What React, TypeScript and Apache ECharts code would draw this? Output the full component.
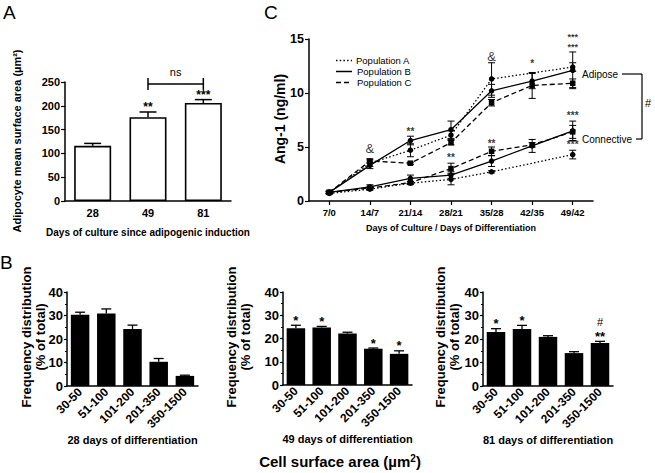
import React, { useEffect, useRef } from "react";
import * as echarts from "echarts";

// ---------- Panel A ----------
const aCategories = ["28", "49", "81"];
const aValues = [116, 176, 206];
const aErrors = [5, 11, 7];
const aMarks = ["", "**", "***"];
const aNsPair = [1, 2];
const aNsLevel = 246;

// ---------- Panel B ----------
const bCategories = ["30-50", "51-100", "101-200", "201-350", "350-1500"];
const b28Values = [30.3, 30.8, 24.3, 10.3, 4.3];
const b28Errors = [1.1, 2.0, 1.6, 1.4, 0.3];
const b28Marks = ["", "", "", "", ""];
const b49Values = [24.4, 24.7, 22.1, 15.6, 13.4];
const b49Errors = [1.3, 0.5, 0.6, 0.3, 1.3];
const b49Marks = ["*", "*", "", "*", "*"];
const b81Values = [23.0, 24.3, 20.9, 14.0, 18.3];
const b81Errors = [1.4, 1.5, 0.5, 0.6, 0.7];
const b81Marks = ["*", "*", "", "", "#\n**"];

// ---------- Panel C ----------
const cCategories = ["7/0", "14/7", "21/14", "28/21", "35/28", "42/35", "49/42"];
const adiposeA = [0.8, 3.5, 4.7, 6.1, 11.3, null, 12.4];
const adiposeB = [0.8, 3.3, 5.6, 6.6, 10.2, 11.1, 12.1];
const adiposeC = [0.8, 3.7, 3.5, 5.4, 9.1, 10.7, 10.9];
const connectiveA = [0.7, 1.1, 1.65, 2.0, 2.7, null, 4.3];
const connectiveB = [0.8, 1.3, 2.1, 2.4, 3.7, 5.1, 6.5];
const connectiveC = [0.8, 1.2, 1.7, 3.0, 4.6, 5.2, 6.4];
const adiposeAErr = [0.1, 0.3, 0.6, 0.4, 1.5, null, 0.4];
const adiposeBErr = [0.1, 0.3, 0.4, 0.8, 0.6, 0.7, 1.7];
const adiposeCErr = [0.1, 0.2, 0.1, 0.2, 0.3, 1.2, 0.4];
const connectiveAErr = [0.1, 0.1, 0.1, 0.5, 0.1, null, 0.4];
const connectiveBErr = [0.1, 0.2, 0.3, 0.3, 0.5, 0.6, 0.9];
const connectiveCErr = [0.1, 0.1, 0.1, 0.5, 0.4, 0.2, 0.6];
const cMarkIndex = [1, 2, 3, 4, 4, 5, 6, 6, 6];
const cMarkValue = [4.9, 6.4, 4.0, 13.4, 5.35, 12.75, 14.7, 7.9, 5.2];
const cMarkText = ["&", "**", "**", "&", "**", "*", "***\n***", "***", "***"];
const populationNames = ["Population A", "Population B", "Population C"];

const FONT = "'Liberation Sans', Arial, Helvetica, sans-serif";
const DOTTED = [1.5, 2.2];
const DASHED = [5, 3];

function upperErrorBars(idx: number, values: number[], errors: number[], marks: string[], capWidth: number, lineWidth: number, markSize: number) {
  return {
    type: "custom",
    xAxisIndex: idx,
    yAxisIndex: idx,
    silent: true,
    clip: false,
    z: 5,
    itemStyle: { color: "#000" },
    data: values.map((v, i) => [i, v + errors[i]]),
    renderItem: (params: any, api: any) => {
      const i = params.dataIndex;
      const p0 = api.coord([i, values[i]]);
      const p1 = api.coord([i, values[i] + errors[i]]);
      const children: any[] = [
        { type: "line", shape: { x1: p0[0], y1: p0[1], x2: p1[0], y2: p1[1] }, style: { stroke: "#000", lineWidth } },
        { type: "line", shape: { x1: p1[0] - capWidth / 2, y1: p1[1], x2: p1[0] + capWidth / 2, y2: p1[1] }, style: { stroke: "#000", lineWidth } },
      ];
      const lines = (marks[i] || "").split("\n").filter(Boolean).reverse();
      lines.forEach((t, k) => {
        children.push({
          type: "text",
          x: p1[0],
          y: p1[1] - 5 - k * 14,
          style: {
            text: t,
            fill: "#000",
            fontSize: t === "#" ? 11 : markSize,
            fontWeight: t === "#" ? "normal" : "bold",
            fontFamily: FONT,
            align: "center",
            verticalAlign: "middle",
          },
        });
      });
      return { type: "group", children };
    },
  };
}

function rangeErrorBars(values: (number | null)[], errors: (number | null)[]) {
  const cap = 7;
  return {
    type: "custom",
    xAxisIndex: 1,
    yAxisIndex: 1,
    silent: true,
    clip: false,
    z: 4,
    itemStyle: { color: "#000" },
    data: values.map((v, i) => [i, v == null ? 0 : v]),
    renderItem: (params: any, api: any) => {
      const i = params.dataIndex;
      const v = values[i];
      const e = errors[i];
      if (v == null || e == null) return null;
      const lo = api.coord([i, v - e]);
      const hi = api.coord([i, v + e]);
      const st = { stroke: "#000", lineWidth: 1 };
      return {
        type: "group",
        children: [
          { type: "line", shape: { x1: lo[0], y1: lo[1], x2: hi[0], y2: hi[1] }, style: st },
          { type: "line", shape: { x1: hi[0] - cap / 2, y1: hi[1], x2: hi[0] + cap / 2, y2: hi[1] }, style: st },
          { type: "line", shape: { x1: lo[0] - cap / 2, y1: lo[1], x2: lo[0] + cap / 2, y2: lo[1] }, style: st },
        ],
      };
    },
  };
}

function lineSeries(name: string, data: (number | null)[], dash: any, symbol: string) {
  return {
    type: "line",
    name,
    xAxisIndex: 1,
    yAxisIndex: 1,
    data,
    connectNulls: true,
    symbol,
    symbolSize: 5.5,
    showSymbol: true,
    itemStyle: { color: "#000" },
    lineStyle: { color: "#000", width: 1.3, type: dash },
    z: 3,
  };
}

const axisLine = { show: true, lineStyle: { color: "#000", width: 1.5 } };

function bXAxis(idx: number, title: string) {
  return {
    gridIndex: idx,
    type: "category",
    data: bCategories,
    axisLine,
    axisTick: { show: false },
    axisLabel: { color: "#000", fontWeight: "bold", fontSize: 12, rotate: 45, interval: 0, margin: 4, fontFamily: FONT },
    name: title,
    nameLocation: "middle",
    nameGap: 48,
    nameTextStyle: { color: "#000", fontWeight: "bold", fontSize: 11, fontFamily: FONT },
  };
}

function bYAxis(idx: number) {
  return {
    gridIndex: idx,
    type: "value",
    min: 0,
    max: 40,
    interval: 10,
    splitLine: { show: false },
    axisLine,
    axisTick: { show: true, length: 3, lineStyle: { color: "#000", width: 1.2 } },
    minorTick: { show: true, splitNumber: 2, length: 2, lineStyle: { color: "#000", width: 1 } },
    axisLabel: { color: "#000", fontWeight: "bold", fontSize: 13, margin: 4, fontFamily: FONT },
  };
}

function bBars(idx: number, values: number[]) {
  return {
    type: "bar",
    xAxisIndex: idx,
    yAxisIndex: idx,
    data: values,
    barWidth: 18.5,
    itemStyle: { color: "#000" },
  };
}

function vTitle(text: string, x: number, y: number, size: number) {
  return {
    type: "text",
    x,
    y,
    rotation: Math.PI / 2,
    style: {
      text,
      fill: "#000",
      fontSize: size,
      fontWeight: "bold",
      fontFamily: FONT,
      lineHeight: size + 0.5,
      align: "center",
      verticalAlign: "middle",
    },
  };
}

export default function App() {
  const ref = useRef<HTMLDivElement>(null);
  useEffect(() => {
    if (!ref.current) return;
    const chart = echarts.init(ref.current, undefined, { renderer: "svg" });
    const option: any = {
      animation: false,
      backgroundColor: "#fff",
      color: ["#000"],
      textStyle: { fontFamily: FONT, color: "#000" },
      grid: [
        { left: 65, top: 82, width: 166, height: 119 },
        { left: 309, top: 39, width: 284, height: 162 },
        { left: 67, top: 292, width: 131, height: 94 },
        { left: 283, top: 292, width: 129, height: 93 },
        { left: 483, top: 292, width: 130, height: 94 },
      ],
      xAxis: [
        {
          gridIndex: 0,
          type: "category",
          data: aCategories,
          axisLine,
          axisTick: { show: false },
          axisLabel: { color: "#000", fontWeight: "bold", fontSize: 11, margin: 6, fontFamily: FONT },
          name: "Days of culture since adipogenic induction",
          nameLocation: "middle",
          nameGap: 26,
          nameTextStyle: { color: "#000", fontWeight: "bold", fontSize: 10, fontFamily: FONT },
        },
        {
          gridIndex: 1,
          type: "category",
          data: cCategories,
          boundaryGap: true,
          axisLine,
          axisTick: { show: true, alignWithLabel: true, length: 4, lineStyle: { color: "#000", width: 1.2 } },
          axisLabel: { color: "#000", fontWeight: "bold", fontSize: 9.5, margin: 6, fontFamily: FONT },
          name: "Days of Culture / Days of Differentiation",
          nameLocation: "middle",
          nameGap: 22,
          nameTextStyle: { color: "#000", fontWeight: "bold", fontSize: 9, fontFamily: FONT },
        },
        bXAxis(2, "28 days of differentiation"),
        bXAxis(3, "49 days of differentiation"),
        bXAxis(4, "81 days of differentiation"),
      ],
      yAxis: [
        {
          gridIndex: 0,
          type: "value",
          min: 0,
          max: 250,
          interval: 50,
          splitLine: { show: false },
          axisLine,
          axisTick: { show: true, length: 4, lineStyle: { color: "#000", width: 1.2 } },
          axisLabel: { color: "#000", fontWeight: "bold", fontSize: 11, margin: 5, fontFamily: FONT },
        },
        {
          gridIndex: 1,
          type: "value",
          min: 0,
          max: 15,
          interval: 5,
          splitLine: { show: false },
          axisLine,
          axisTick: { show: true, length: 4, lineStyle: { color: "#000", width: 1.2 } },
          axisLabel: { color: "#000", fontWeight: "bold", fontSize: 12.5, margin: 5, fontFamily: FONT },
        },
        bYAxis(2),
        bYAxis(3),
        bYAxis(4),
      ],
      series: [
        {
          type: "bar",
          xAxisIndex: 0,
          yAxisIndex: 0,
          data: aValues,
          barWidth: 37,
          itemStyle: { color: "#fff", borderColor: "#000", borderWidth: 1.6 },
        },
        upperErrorBars(0, aValues, aErrors, aMarks, 17, 1.5, 12),
        {
          type: "custom",
          xAxisIndex: 0,
          yAxisIndex: 0,
          silent: true,
          clip: false,
          itemStyle: { color: "#000" },
          data: [[aNsPair[0], aNsLevel]],
          renderItem: (params: any, api: any) => {
            const p0 = api.coord([aNsPair[0], aNsLevel]);
            const p1 = api.coord([aNsPair[1], aNsLevel]);
            const st = { stroke: "#000", lineWidth: 1.5 };
            return {
              type: "group",
              children: [
                { type: "line", shape: { x1: p0[0], y1: p0[1], x2: p1[0], y2: p1[1] }, style: st },
                { type: "line", shape: { x1: p0[0], y1: p0[1] - 6, x2: p0[0], y2: p0[1] + 6 }, style: st },
                { type: "line", shape: { x1: p1[0], y1: p1[1] - 6, x2: p1[0], y2: p1[1] + 6 }, style: st },
                {
                  type: "text",
                  x: (p0[0] + p1[0]) / 2,
                  y: p0[1] - 12,
                  style: { text: "ns", fill: "#000", fontSize: 11, fontFamily: FONT, align: "center", verticalAlign: "middle" },
                },
              ],
            };
          },
        },
        lineSeries(populationNames[0], adiposeA, DOTTED, "circle"),
        lineSeries(populationNames[1], adiposeB, "solid", "circle"),
        lineSeries(populationNames[2], adiposeC, DASHED, "rect"),
        lineSeries(populationNames[0], connectiveA, DOTTED, "circle"),
        lineSeries(populationNames[1], connectiveB, "solid", "circle"),
        lineSeries(populationNames[2], connectiveC, DASHED, "rect"),
        rangeErrorBars(adiposeA, adiposeAErr),
        rangeErrorBars(adiposeB, adiposeBErr),
        rangeErrorBars(adiposeC, adiposeCErr),
        rangeErrorBars(connectiveA, connectiveAErr),
        rangeErrorBars(connectiveB, connectiveBErr),
        rangeErrorBars(connectiveC, connectiveCErr),
        {
          type: "scatter",
          xAxisIndex: 1,
          yAxisIndex: 1,
          silent: true,
          clip: false,
          symbolSize: 0,
          z: 6,
          itemStyle: { color: "#000" },
          label: { show: true, position: "inside", color: "#000", fontFamily: FONT },
          labelLayout: { hideOverlap: false },
          data: cMarkIndex.map((x, i) => {
            const t = cMarkText[i];
            const multi = t.indexOf("\n") >= 0;
            return {
              value: [x, cMarkValue[i]],
              label: {
                formatter: t,
                fontSize: t === "&" ? 13 : multi ? 9 : 10,
                lineHeight: multi ? 9.5 : undefined,
                fontWeight: t === "&" ? "normal" : "bold",
                offset: [0, t === "&" ? 0 : 2],
                color: "#000",
              },
            };
          }),
        },
        bBars(2, b28Values),
        bBars(3, b49Values),
        bBars(4, b81Values),
        upperErrorBars(2, b28Values, b28Errors, b28Marks, 10, 1.3, 13),
        upperErrorBars(3, b49Values, b49Errors, b49Marks, 10, 1.3, 13),
        upperErrorBars(4, b81Values, b81Errors, b81Marks, 10, 1.3, 13),
      ],
      graphic: [
        { type: "text", left: 3, top: 3, style: { text: "A", fill: "#000", fontSize: 19, fontFamily: FONT } },
        { type: "text", left: 0, top: 253, style: { text: "B", fill: "#000", fontSize: 19, fontFamily: FONT } },
        { type: "text", left: 264, top: 3, style: { text: "C", fill: "#000", fontSize: 19, fontFamily: FONT } },
        // y-axis titles
        vTitle("Adipocyte mean surface area (µm²)", 16.5, 141, 11),
        vTitle("Ang-1 (ng/ml)", 280, 119, 14),
        vTitle("Frequency distribution\n(% of total)", 33.5, 337, 13),
        vTitle("Frequency distribution\n(% of total)", 238.5, 337, 13),
        vTitle("Frequency distribution\n(% of total)", 447.5, 337, 13),
        // legend of panel C
        { type: "line", shape: { x1: 336, y1: 60.5, x2: 352, y2: 60.5 }, style: { stroke: "#000", lineWidth: 1.3, lineDash: DOTTED } },
        { type: "line", shape: { x1: 336, y1: 71.5, x2: 352, y2: 71.5 }, style: { stroke: "#000", lineWidth: 1.5 } },
        { type: "line", shape: { x1: 336, y1: 82.5, x2: 352, y2: 82.5 }, style: { stroke: "#000", lineWidth: 1.5, lineDash: DASHED } },
        { type: "text", x: 356, y: 60.5, style: { text: populationNames[0], fill: "#000", fontSize: 9.5, fontFamily: FONT, verticalAlign: "middle" } },
        { type: "text", x: 357, y: 71.5, style: { text: populationNames[1], fill: "#000", fontSize: 9.5, fontFamily: FONT, verticalAlign: "middle" } },
        { type: "text", x: 357, y: 82.5, style: { text: populationNames[2], fill: "#000", fontSize: 9.5, fontFamily: FONT, verticalAlign: "middle" } },
        // Adipose / Connective bracket
        { type: "text", x: 582, y: 74, style: { text: "Adipose", fill: "#000", fontSize: 10, fontFamily: FONT, verticalAlign: "middle" } },
        { type: "text", x: 582, y: 139, style: { text: "Connective", fill: "#000", fontSize: 10, fontFamily: FONT, verticalAlign: "middle" } },
        { type: "line", shape: { x1: 622, y1: 74, x2: 642, y2: 74 }, style: { stroke: "#000", lineWidth: 1.2 } },
        { type: "line", shape: { x1: 642, y1: 74, x2: 642, y2: 139 }, style: { stroke: "#000", lineWidth: 1.2 } },
        { type: "line", shape: { x1: 636, y1: 139, x2: 642, y2: 139 }, style: { stroke: "#000", lineWidth: 1.2 } },
        { type: "text", x: 648, y: 103, style: { text: "#", fill: "#000", fontSize: 11, fontFamily: FONT, align: "center", verticalAlign: "middle" } },
        // Panel B common title
        {
          type: "text",
          x: 340,
          y: 461,
          style: {
            text: "{m|Cell surface area (µm}{s|2}{m|)}",
            fill: "#000",
            align: "center",
            verticalAlign: "middle",
            rich: {
              m: { fontSize: 15, fontWeight: "bold", fontFamily: FONT, fill: "#000", verticalAlign: "bottom" },
              s: { fontSize: 10, fontWeight: "bold", fontFamily: FONT, fill: "#000", verticalAlign: "top" },
            },
          },
        },
      ],
    };
    chart.setOption(option);
    return () => chart.dispose();
  }, []);
  return <div ref={ref} style={{ position: "fixed", left: 0, top: 0, width: 655, height: 473 }} />;
}
